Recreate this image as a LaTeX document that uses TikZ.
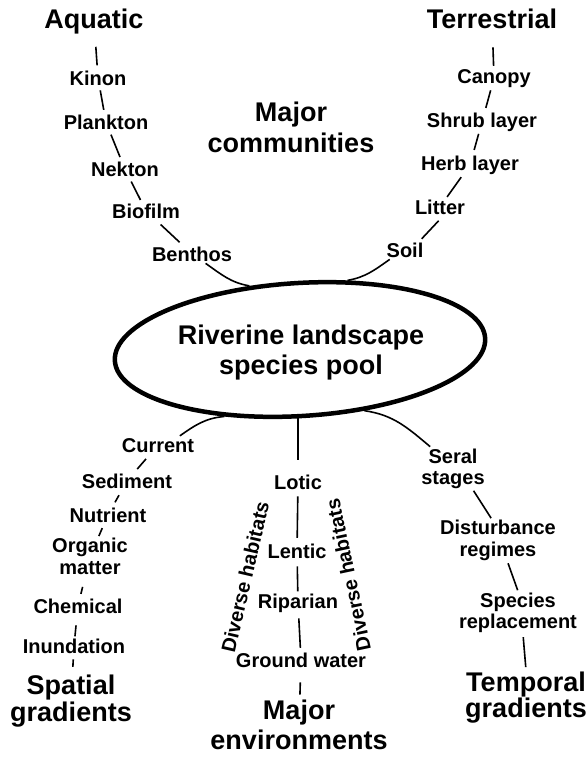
\documentclass[tikz,border=0pt]{standalone}
\usepackage{fontspec}
\setmainfont{Liberation Sans}
\usepackage{tikz}
\usetikzlibrary{shapes.geometric}

\begin{document}
\begin{tikzpicture}[
    x=1pt, y=1pt,
    item/.style={font=\bfseries\fontsize{20}{22}\selectfont, inner sep=2pt},
    head/.style={font=\bfseries\fontsize{27}{30}\selectfont, inner sep=2pt},
    pool/.style={draw, ellipse, line width=4.5pt, minimum width=371pt, minimum height=133pt, inner sep=0pt, rotate=3.5},
    link/.style={line width=1.6pt},
]
    \useasboundingbox (0,0) rectangle (587,-758);

    \node[pool] (pool) at (300,-349.5) {};
    \node[head, align=center] (poolname) at (301,-353) {Riverine landscape\\species pool};

    \node[head, align=center, font=\bfseries\fontsize{27}{31}\selectfont] (communities) at (291,-127.7) {Major\\communities};

    \node[head, anchor=base] (aquatic) at (94,-28) {Aquatic};
    \node[item, anchor=base] (kinon) at (98,-85) {Kinon};
    \node[item, anchor=base] (plankton) at (106,-129.5) {Plankton};
    \node[item, anchor=base] (nekton) at (125,-176.5) {Nekton};
    \node[item, anchor=base] (biofilm) at (146,-218) {Biofilm};
    \node[item, anchor=base] (benthos) at (192,-261) {Benthos};

    \node[head, anchor=base] (terrestrial) at (492,-28) {Terrestrial};
    \node[item, anchor=base] (canopy) at (494,-83) {Canopy};
    \node[item, anchor=base] (shrub) at (482,-127) {Shrub layer};
    \node[item, anchor=base] (herb) at (470,-170) {Herb layer};
    \node[item, anchor=base] (litter) at (440,-214) {Litter};
    \node[item, anchor=base] (soil) at (405,-257) {Soil};

    \node[item, anchor=base] (current) at (158,-452) {Current};
    \node[item, anchor=base] (sediment) at (127,-488) {Sediment};
    \node[item, anchor=base] (nutrient) at (108,-522) {Nutrient};
    \node[item, align=center] (organic) at (90,-556.6) {Organic\\matter};
    \node[item, anchor=base] (chemical) at (78,-613) {Chemical};
    \node[item, anchor=base] (inundation) at (74,-653) {Inundation};
    \node[head, align=center, font=\bfseries\fontsize{27}{27}\selectfont] (spatial) at (71,-701.5) {Spatial\\gradients};

    \node[item, anchor=base] (lotic) at (298,-489) {Lotic};
    \node[item, anchor=base] (lentic) at (297,-558) {Lentic};
    \node[item, anchor=base] (riparian) at (298,-608) {Riparian};
    \node[item, anchor=base] (ground) at (301,-667) {Ground water};
    \node[head, align=center] (environments) at (299,-725) {Major\\environments};
    \node[item, rotate=77] (divleft) at (245,-577) {Diverse habitats};
    \node[item, rotate=102] (divright) at (348,-575) {Diverse habitats};

    \node[item, align=center, font=\bfseries\fontsize{20}{21}\selectfont] (seral) at (453,-468.7) {Seral\\stages};
    \node[item, align=center] (disturbance) at (498,-540.7) {Disturbance\\regimes};
    \node[item, align=center, font=\bfseries\fontsize{20}{21}\selectfont] (species) at (518,-613.2) {Species\\replacement};
    \node[head, align=center, font=\bfseries\fontsize{27}{26}\selectfont] (temporal) at (526,-698) {Temporal\\gradients};

    \draw[link, shorten <=11pt, shorten >=3pt] (aquatic) -- (kinon);
    \draw[link, shorten <=3pt, shorten >=3pt] (kinon) -- (plankton);
    \draw[link, shorten <=3pt, shorten >=3pt] (plankton) -- (nekton);
    \draw[link, shorten <=3pt, shorten >=1.5pt] (nekton) -- (biofilm);
    \draw[link, shorten <=6pt, shorten >=3pt] (biofilm) -- (benthos);
    \draw[link] (benthos.325) to[out=-35, in=170] (pool.125);

    \draw[link, shorten <=17pt, shorten >=1pt] (terrestrial) -- (canopy);
    \draw[link, shorten <=1pt, shorten >=2.5pt] (canopy) -- (shrub);
    \draw[link, shorten <=0.5pt, shorten >=3.5pt] (shrub) -- (herb);
    \draw[link, shorten <=1pt, shorten >=0.5pt] (herb) -- (litter);
    \draw[link, shorten <=6pt, shorten >=2pt] (litter.-74) -- (soil.32);
    \draw[link] (soil.212) to[out=215, in=10] (pool.52);

    \draw[link] (pool.218) to[out=185, in=35] (current.23);
    \draw[link, shorten <=6pt, shorten >=3pt] (current) -- (sediment);
    \draw[link, shorten <=5.5pt, shorten >=3.4pt] (sediment) -- (nutrient);
    \draw[link, shorten <=4pt] (nutrient) -- (organic);
    \draw[link, shorten <=10pt, shorten >=2.5pt] (organic) -- (chemical);
    \draw[link, shorten <=10pt] (chemical) -- (inundation);
    \draw[link, shorten <=4pt, shorten >=6.3pt] (inundation) -- (spatial);

    \draw[link, shorten >=12pt] (lotic |- pool.south) -- (lotic.north);
    \draw[link, shorten <=5pt, shorten >=3.5pt] (lotic) -- (lentic);
    \draw[link, shorten <=6pt] (lentic) -- (riparian);
    \draw[link, shorten <=4pt, shorten >=2.5pt] (riparian) -- (ground);
    \draw[link, shorten <=13pt, shorten >=3.3pt] (ground) -- (environments);

    \draw[link] (pool.313) to[out=-8, in=140] (seral.136);
    \draw[link] (seral.-47) -- (disturbance.107);
    \draw[link, shorten >=1pt] (disturbance.-66) -- (species.north);
    \draw[link, shorten <=2pt, shorten >=3pt] (species.-77) -- (temporal.north);
\end{tikzpicture}
\end{document}
